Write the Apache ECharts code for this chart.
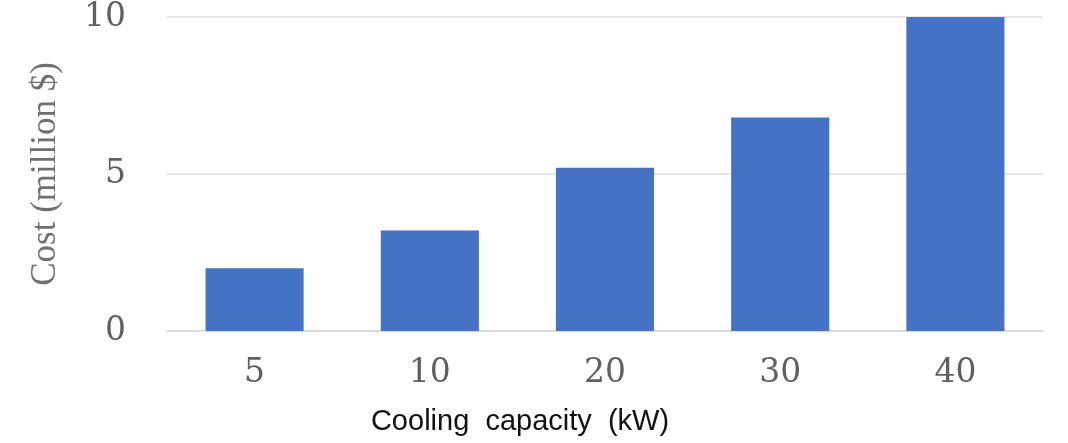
<!DOCTYPE html>
<html>
<head>
<meta charset="utf-8">
<title>Cooling capacity cost</title>
<script src="https://cdn.jsdelivr.net/npm/echarts@6/dist/echarts.min.js"></script>
<style>
  html, body { margin: 0; padding: 0; background: #fff; }
  #chart { width: 1068px; height: 443px; }
</style>
</head>
<body>
<div id="chart"></div>
<script>
// data
const capacities = ['5', '10', '20', '30', '40']
const costs = [2.0, 3.2, 5.2, 6.8, 10.0]
const yTicks = [0, 5, 10]

const chart = echarts.init(document.getElementById('chart'))

const option = {
  animation: false,
  grid: {
    left: 167,
    right: 25,
    top: 17,
    bottom: 112
  },
  xAxis: {
    type: 'category',
    data: capacities,
    name: 'Cooling  capacity  (kW)',
    nameLocation: 'middle',
    nameGap: 76,
    nameTextStyle: {
      fontFamily: 'Liberation Sans, Arial',
      fontSize: 29,
      color: '#111',
      padding: [0, 170, 0, 0]
    },
    axisLine: { lineStyle: { color: '#d9d9d9', width: 1.5 } },
    axisTick: { show: false },
    axisLabel: {
      margin: 26,
      fontFamily: 'DejaVu Serif',
      fontSize: 33,
      color: '#5f5f5f'
    }
  },
  yAxis: {
    type: 'value',
    min: yTicks[0],
    max: yTicks[yTicks.length - 1],
    interval: 5,
    name: 'Cost (million $)',
    nameLocation: 'middle',
    nameGap: 104,
    nameRotate: 90,
    nameTextStyle: {
      fontFamily: 'Liberation Serif',
      fontSize: 35,
      color: '#707070'
    },
    axisLine: { show: false },
    axisTick: { show: false },
    axisLabel: {
      margin: 41,
      fontFamily: 'DejaVu Serif',
      fontSize: 33,
      color: '#5f5f5f'
    },
    splitLine: { lineStyle: { color: '#dedede', width: 1.5 } }
  },
  series: [
    {
      type: 'bar',
      data: costs,
      barWidth: '56%',
      itemStyle: { color: '#4472c4' }
    }
  ]
}

chart.setOption(option)
window.addEventListener('resize', () => { chart.resize() })
</script>
</body>
</html>
